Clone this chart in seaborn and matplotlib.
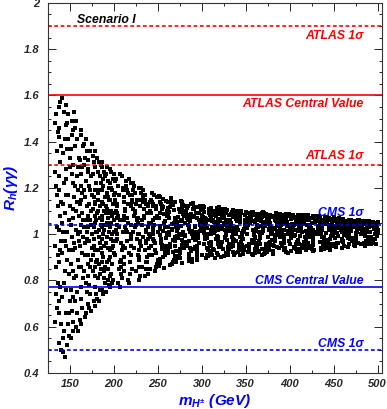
import matplotlib
matplotlib.use("Agg")
import matplotlib.pyplot as plt
from matplotlib.ticker import MultipleLocator, FormatStrFormatter
import seaborn as sns
import pandas as pd

# scan points (m_H+- in GeV, R_h(gamma gamma))
mh_1 = [133,134,133,135,134,136,133,135,136,134,135,133,136,134,135,136,
        137,138,139,140,137,138,139,140,137,138,139,140,137,138,139,140,138,139,137,140,
        141,142,143,144,145,141,142,143,144,145,141,142,143,144,145,141,142,143,144,145,142,144,
        146,147,148,149,150,146,147,148,149,150,146,147,148,149,150,146,147,148,149,150,147,149]
rh_1 = [1.48,1.21,0.95,1.36,0.74,1.12,0.62,1.03,1.44,0.86,0.68,1.27,0.91,1.52,1.17,0.79,
        1.55,0.53,1.31,0.97,0.71,1.42,1.08,0.61,1.19,0.88,1.57,0.50,1.02,1.25,0.77,1.38,0.66,0.93,1.46,1.14,
        1.59,0.49,1.22,0.84,1.47,1.05,1.35,0.58,0.97,0.66,0.73,1.13,1.53,0.47,1.28,0.92,1.01,0.79,1.41,1.17,0.55,1.09,
        1.56,0.52,1.17,0.83,1.33,0.95,1.48,0.61,1.06,0.71,1.24,0.89,1.41,0.56,1.12,0.76,1.01,1.52,0.66,1.29,1.37,0.93]

mh_2 = [151,152,153,154,155,151,152,153,154,155,151,152,153,154,155,151,152,153,154,155,152,153,154,151,
        156,157,158,159,160,156,157,158,159,160,156,157,158,159,160,156,157,158,159,160,157,158,159,156,
        161,162,163,164,165,161,162,163,164,165,161,162,163,164,165,161,162,163,164,165,162,163,164,161,
        166,167,168,169,170,166,167,168,169,170,166,167,168,169,170,166,167,168,169,170,167,168,169,166,
        171,172,173,174,175,171,172,173,174,175,171,172,173,174,175,171,172,173,174,175,172,173,174,171]
rh_2 = [1.04,1.49,0.58,1.22,0.81,1.37,0.67,1.11,0.93,1.53,0.55,0.99,1.30,0.73,1.16,0.87,1.43,0.62,1.07,0.96,1.26,0.84,1.45,0.76,
        1.46,0.60,1.14,0.89,1.33,0.71,1.02,1.25,0.58,0.97,1.38,0.82,0.66,1.19,1.08,0.94,1.49,0.75,1.29,0.86,1.10,1.41,1.00,1.21,
        0.63,1.21,1.43,0.92,1.06,1.32,0.77,1.15,0.68,1.38,1.01,0.86,1.26,1.09,0.81,0.95,1.45,0.61,1.18,0.99,1.04,0.72,1.29,1.13,
        1.39,0.91,0.66,1.12,1.27,1.03,1.33,0.79,0.98,0.70,1.19,0.64,1.06,1.36,0.87,0.84,1.16,1.41,0.75,1.08,0.96,1.23,1.01,1.30,
        1.03,0.68,1.36,0.89,1.17,1.28,0.97,0.74,1.10,1.39,0.82,1.21,1.06,0.67,0.94,1.32,1.13,0.86,1.25,1.00,0.78,1.19,1.04,0.91]

mh_3 = [176,177,178,179,180,176,177,178,179,180,176,177,178,179,180,176,177,178,179,180,176,177,178,179,180,177,178,179,
        181,182,183,184,185,181,182,183,184,185,181,182,183,184,185,181,182,183,184,185,181,182,183,184,185,182,183,184,
        186,187,188,189,190,186,187,188,189,190,186,187,188,189,190,186,187,188,189,190,186,187,188,189,190,187,188,189,
        191,192,193,194,195,191,192,193,194,195,191,192,193,194,195,191,192,193,194,195,191,192,193,194,195,192,193,194,
        196,197,198,199,200,196,197,198,199,200,196,197,198,199,200,196,197,198,199,200,196,197,198,199,200,197,198,199]
rh_3 = [1.34,0.71,1.05,0.93,1.22,0.84,1.16,1.29,0.69,1.01,1.11,0.98,0.77,1.36,0.88,1.26,0.95,1.08,1.19,0.74,0.91,1.31,1.13,0.82,1.06,1.03,0.86,1.14,
        0.72,1.27,0.99,1.12,0.85,1.33,0.93,1.19,0.76,1.04,1.09,0.81,1.31,0.96,1.22,0.89,1.15,0.71,1.07,1.30,1.01,1.10,0.87,1.25,0.94,1.18,1.02,0.83,
        1.06,1.29,0.74,0.95,1.16,0.88,1.03,1.21,1.10,0.79,1.31,0.92,1.00,0.84,1.25,0.98,0.76,1.13,1.27,1.04,1.19,1.08,0.90,1.02,0.86,1.14,1.24,0.81,
        0.96,1.18,1.07,0.78,1.28,1.12,0.88,1.23,1.01,0.93,0.75,1.05,0.85,1.15,1.09,1.26,0.99,0.80,1.20,1.03,1.09,1.29,0.94,0.89,0.82,1.11,1.16,1.04,
        1.22,0.83,1.00,1.13,0.92,0.77,1.27,1.08,0.95,1.17,1.04,0.98,0.87,1.24,1.06,1.15,1.10,1.19,0.80,1.01,0.90,1.05,0.94,1.09,1.26,1.20,0.79,0.97]

mh_4 = [206,202,209,204,210,201,208,203,207,205,204,208,201,210,205,209,202,207,203,206,209,205,202,208,203,207,210,201,206,204,207,202,210,204,201,208,
        212,217,214,211,216,220,215,219,213,218,216,212,219,214,220,211,218,213,217,215,214,218,211,220,215,219,212,217,213,216,213,219,215,211,216,220,
        229,225,222,228,223,227,230,221,226,224,222,227,224,221,226,230,225,229,223,228,226,222,229,224,230,221,228,223,227,225,227,222,230,224,221,228,
        234,238,231,240,235,239,232,237,233,236,239,235,232,238,233,237,240,231,236,234,232,237,234,231,236,240,235,239,233,238,233,239,235,231,236,240,
        246,242,249,244,250,241,248,243,247,245,242,247,244,241,246,250,245,249,243,248,249,245,242,248,243,247,250,241,246,244,247,242,250,244,241,248]
rh_4 = [1.03,1.24,0.81,1.12,0.95,1.18,0.89,1.07,1.26,0.79,0.98,0.86,1.15,1.01,1.21,0.93,1.10,0.77,1.04,1.17,1.25,1.08,0.97,0.83,1.13,1.06,1.20,0.91,0.85,1.00,0.88,1.02,1.19,1.09,1.23,0.96,
        1.16,0.92,1.23,0.84,1.05,1.00,1.19,0.95,1.11,0.88,0.80,1.08,0.99,1.21,0.91,1.14,0.83,1.03,1.24,1.07,1.02,1.17,0.87,1.12,0.97,1.22,1.06,0.79,0.94,1.18,1.10,0.98,1.01,0.90,1.13,1.04,
        0.86,1.13,1.01,1.20,0.94,1.07,0.82,1.17,0.98,1.10,1.22,0.91,1.09,0.85,1.15,0.97,1.04,0.89,1.21,1.00,1.06,1.19,0.80,1.03,1.12,1.15,0.93,1.08,1.05,0.84,1.00,1.11,0.96,1.18,1.14,0.90,
        1.11,0.88,1.18,1.00,0.93,0.83,1.06,0.96,1.14,1.02,0.98,1.15,0.86,1.09,1.19,1.13,0.91,1.20,0.85,1.08,1.04,1.01,1.07,0.95,0.88,0.94,1.17,1.03,0.99,0.90,1.16,1.12,0.82,1.15,0.97,1.05,
        0.97,1.15,0.87,1.06,1.01,1.10,0.92,1.18,0.96,1.13,1.05,0.84,1.12,0.99,1.17,0.89,1.03,1.08,1.14,0.86,1.16,1.00,0.95,1.11,0.91,1.07,1.16,0.85,1.04,0.98,0.93,1.09,0.88,1.02,1.14,1.12]

mh_5 = [256,252,259,254,260,251,258,253,257,255,259,255,252,258,253,257,260,251,256,254,254,258,251,260,255,259,252,257,253,256,253,258,251,256,260,255,252,259,
        264,268,261,270,265,269,262,267,263,266,262,267,264,261,266,270,265,269,263,268,266,262,269,264,270,261,268,263,267,265,267,262,269,264,261,270,266,263,
        279,275,272,278,273,277,280,271,276,274,276,272,279,274,280,271,278,273,277,275,272,277,274,271,276,280,275,279,273,278,273,278,271,276,280,275,272,279,
        282,287,284,281,286,290,285,289,283,288,284,288,281,290,285,289,282,287,283,286,289,285,282,288,283,287,290,281,286,284,287,282,289,284,281,290,286,283,
        296,292,299,294,300,291,298,293,297,295,292,297,294,291,296,300,295,299,293,298,294,298,291,300,295,299,292,297,293,296,293,298,291,296,300,295,292,299]
rh_5 = [1.012,0.874,1.143,0.962,1.078,1.165,0.921,1.035,0.853,1.109,0.947,1.121,0.995,1.058,0.893,1.087,1.004,0.869,1.152,0.978,1.131,0.912,1.069,1.101,0.938,0.985,1.160,1.047,1.024,0.901,1.093,1.030,0.861,1.117,1.001,0.954,1.138,0.931,
        0.958,1.104,1.032,0.883,1.147,1.061,0.917,1.126,0.997,1.042,1.139,0.975,0.866,1.083,1.018,0.905,1.155,0.948,1.069,0.889,1.021,1.092,1.140,0.943,0.971,1.113,1.050,1.008,0.925,1.130,0.878,1.007,1.071,1.119,0.934,0.988,0.870,1.097,
        1.087,0.935,1.012,1.139,0.896,0.974,1.121,0.881,1.056,1.003,1.143,1.044,0.962,0.907,1.102,1.029,0.952,1.075,1.132,0.919,0.993,0.876,1.109,1.066,1.037,0.942,1.095,1.128,0.983,1.061,1.025,1.115,0.927,0.998,1.079,0.899,1.051,1.011,
        0.947,1.068,1.124,0.991,1.036,1.109,0.886,1.015,0.958,1.131,1.082,0.928,1.049,1.135,0.903,1.003,1.097,0.941,1.071,0.972,0.893,1.022,0.966,1.088,1.118,1.056,0.983,1.121,0.915,1.040,1.010,1.101,0.880,1.062,0.996,1.076,1.029,1.113,
        1.117,0.973,1.046,0.907,1.084,0.938,1.124,1.011,1.063,0.889,1.029,1.092,0.951,1.108,1.002,1.072,0.893,1.120,0.981,1.041,0.921,1.014,1.078,1.055,0.936,1.103,1.035,0.964,1.090,1.116,0.997,1.058,1.119,0.985,0.912,1.069,0.944,1.022]

mh_6 = [304,308,301,310,305,309,302,307,303,306,309,305,302,308,303,307,310,301,306,304,302,307,304,301,306,310,305,309,303,308,307,302,309,304,301,310,306,303,
        319,315,312,318,313,317,320,311,316,314,314,318,311,320,315,319,312,317,313,316,316,312,319,314,320,311,318,313,317,315,313,318,311,316,320,315,312,319,
        322,327,324,321,326,330,325,329,323,328,326,322,329,324,330,321,328,323,327,325,329,325,322,328,323,327,330,321,326,324,327,322,329,324,321,330,326,323,
        336,332,339,334,340,331,338,333,337,335,334,338,331,340,335,339,332,337,333,336,332,337,334,331,336,340,335,339,333,338,333,338,331,336,340,335,332,339,
        344,348,341,350,345,349,342,347,343,346,346,342,349,344,350,341,348,343,347,345,349,345,342,348,343,347,350,341,346,344,347,342,349,344,341,350,346,343]
rh_6 = [1.043,0.962,1.106,1.017,0.897,1.081,1.011,0.933,1.118,0.985,0.918,1.067,1.034,1.093,0.956,1.002,1.113,1.055,0.941,1.071,1.097,0.905,0.978,1.121,1.026,0.926,1.049,1.088,1.006,1.111,1.060,1.024,0.947,0.992,1.075,0.968,0.912,1.039,
        0.974,1.098,1.029,0.908,1.063,1.115,0.946,1.003,1.077,0.931,1.052,0.987,1.110,1.037,0.899,1.019,1.084,0.920,1.101,1.046,1.088,0.912,0.966,1.006,1.117,0.952,1.066,1.091,0.994,1.027,0.937,1.049,1.072,0.979,1.104,1.013,1.058,0.958,
        1.023,1.091,0.938,1.058,0.987,0.910,1.075,1.106,0.965,1.041,1.107,0.953,1.012,1.082,0.927,1.066,0.996,1.033,1.099,0.906,0.976,1.048,1.095,0.919,1.070,1.004,0.944,1.087,1.017,1.109,1.055,0.902,1.029,1.100,0.961,1.062,0.983,1.036,
        0.948,1.063,1.102,0.987,1.031,1.084,0.918,1.047,1.009,0.962,1.096,1.022,0.935,1.071,1.104,0.999,1.054,0.909,1.088,1.027,1.015,0.973,1.081,1.044,0.924,1.100,0.981,1.067,0.943,1.092,1.037,1.089,0.956,1.006,1.058,1.075,1.025,0.970,
        1.079,0.931,1.018,1.096,0.967,1.040,1.101,0.913,1.058,1.003,0.952,1.069,1.085,0.990,1.033,0.921,1.011,1.074,0.946,1.092,1.046,1.099,0.940,1.024,1.086,0.978,1.053,1.097,1.006,0.932,1.014,0.959,1.063,0.910,1.081,1.029,0.985,1.051]

mh_7 = [359,355,352,358,353,357,360,351,356,354,352,357,354,351,356,360,355,359,353,358,356,352,359,354,360,351,358,353,357,355,357,352,360,354,351,358,
        362,367,364,361,366,370,365,369,363,368,369,365,362,368,363,367,370,361,366,364,364,368,361,370,365,369,362,367,363,366,363,369,365,361,366,370,
        376,372,379,374,380,371,378,373,377,375,379,375,372,378,373,377,380,371,376,374,372,377,374,371,376,380,375,379,373,378,377,372,380,374,371,378,
        384,388,381,390,385,389,382,387,383,386,382,387,384,381,386,390,385,389,383,388,389,385,382,388,383,387,390,381,386,384,383,389,385,381,386,390,
        399,395,392,398,393,397,400,391,396,394,396,392,399,394,400,391,398,393,397,395,394,398,391,400,395,399,392,397,393,396,397,392,400,394,391,398]
rh_7 = [1.008,1.083,0.947,1.055,0.921,1.097,0.983,1.030,1.072,0.959,1.043,0.914,1.091,1.001,1.064,0.937,1.048,0.970,1.093,1.019,1.078,1.026,0.996,0.926,1.085,1.062,0.911,1.038,0.964,1.081,0.975,1.069,1.013,0.945,1.052,1.096,
        0.953,1.036,1.087,0.990,1.062,1.016,0.928,1.074,1.041,0.912,1.091,0.971,1.021,1.083,0.944,1.056,1.095,0.917,1.002,1.068,1.029,1.078,0.962,1.047,1.011,0.935,1.061,1.034,1.089,0.985,1.071,1.006,0.921,1.052,0.957,1.024,
        1.061,0.918,1.012,1.083,0.975,1.090,1.039,0.956,1.022,1.067,0.999,1.076,0.934,1.048,1.088,0.943,1.006,1.080,1.057,0.925,1.034,0.962,1.069,0.915,1.017,1.073,0.987,1.028,0.949,1.085,0.931,1.051,1.003,1.042,1.091,0.968,
        0.997,1.066,0.929,1.049,1.084,1.030,0.951,1.087,0.982,1.013,1.078,1.002,1.055,0.920,1.037,0.964,1.071,1.019,1.060,0.939,1.086,0.944,1.025,1.075,0.971,1.044,1.082,0.916,1.052,1.090,1.021,0.989,1.070,0.955,1.008,1.039,
        1.041,0.936,1.074,1.010,0.963,1.082,1.026,0.950,1.068,0.995,0.922,1.058,1.087,0.979,1.033,1.003,0.918,1.045,1.079,1.061,1.071,0.999,1.016,1.084,0.941,0.970,1.063,1.035,0.930,1.088,1.053,1.083,0.957,1.020,0.986,1.012]

mh_8 = [402,407,404,401,406,410,405,409,403,408,404,408,401,410,405,409,402,407,403,406,406,402,409,404,410,401,408,403,407,405,405,409,402,406,403,
        416,412,419,414,420,411,418,413,417,415,412,417,414,411,416,420,415,419,413,418,419,415,412,418,413,417,420,411,416,414,418,411,414,420,417,
        424,428,421,430,425,429,422,427,423,426,429,425,422,428,423,427,430,421,426,424,426,422,429,424,430,421,428,423,427,425,425,429,422,426,423,
        439,435,432,438,433,437,440,431,436,434,432,437,434,431,436,440,435,439,433,438,434,438,431,440,435,439,432,437,433,436,438,431,434,440,437,
        442,447,444,441,446,450,445,449,443,448,446,442,449,444,450,441,448,443,447,445,444,448,441,450,445,449,442,447,443,446,445,449,442,446,443]
rh_8 = [0.983,1.057,1.081,0.929,1.020,1.069,0.946,1.012,1.077,0.968,1.036,0.922,1.065,1.045,0.991,1.083,1.029,0.957,1.002,1.072,0.939,1.006,0.975,1.080,1.051,1.014,1.062,1.075,0.935,1.039,1.074,0.962,1.027,0.997,1.043,
        1.064,0.994,0.931,1.049,1.079,0.958,1.071,1.023,0.988,1.042,0.925,1.081,1.011,1.066,0.965,1.038,0.941,1.078,1.054,0.976,1.016,1.058,1.068,0.947,1.030,1.075,1.004,0.934,1.047,1.081,0.979,1.026,0.953,1.061,1.083,
        1.028,1.075,0.962,1.008,0.935,1.052,0.986,1.079,1.041,0.927,1.068,0.949,1.032,1.077,1.014,0.971,1.061,0.940,1.019,1.069,0.955,1.036,1.073,0.997,1.056,1.081,0.931,1.024,0.978,1.049,1.002,1.077,1.063,0.991,0.945,
        0.974,1.066,1.021,0.942,1.075,1.036,0.959,1.071,0.999,1.052,1.078,0.986,1.047,1.011,0.930,1.061,1.072,0.935,1.028,0.966,1.006,0.951,1.074,1.058,1.039,0.989,1.034,1.019,1.069,0.940,1.043,1.003,0.968,1.076,1.060,
        1.046,0.957,1.070,1.004,0.933,1.067,1.025,0.947,1.059,1.013,0.981,1.074,1.037,0.964,1.071,0.939,1.052,1.068,0.992,1.039,1.063,1.008,0.944,1.076,1.020,1.031,0.970,1.062,1.045,0.951,1.072,0.998,1.054,1.064,0.977]

mh_9 = [454,458,451,460,455,459,452,457,453,456,456,452,459,454,460,451,458,453,457,455,452,457,454,451,456,460,455,459,453,458,455,
        469,465,462,468,463,467,470,461,466,464,464,468,461,470,465,469,462,467,463,466,462,467,464,461,466,470,465,469,463,468,468,
        476,472,479,474,480,471,478,473,477,475,479,475,472,478,473,477,480,471,476,474,474,478,471,480,475,479,472,477,473,476,473,
        482,487,484,481,486,490,485,489,483,488,489,485,482,488,483,487,490,481,486,484,486,482,489,484,490,481,488,483,487,485,486,
        494,498,491,500,495,499,492,497,493,496,492,497,494,491,496,500,495,499,493,498,499,495,492,498,493,497,500,491,496,494,495]
rh_9 = [0.963,1.049,1.015,0.941,1.066,1.029,0.985,1.061,0.952,1.038,1.068,0.956,1.033,1.004,0.978,1.058,1.020,0.946,1.064,0.993,1.011,1.063,1.042,1.055,1.026,0.970,1.047,1.008,1.031,1.059,0.961,
        1.053,0.992,0.947,1.061,1.022,0.959,1.040,1.064,0.984,1.006,1.030,1.063,0.971,1.013,1.057,1.046,0.950,1.025,1.059,0.943,0.998,1.036,1.055,0.966,1.044,1.062,1.017,0.981,1.041,1.061,1.001,
        0.976,1.059,1.028,0.952,1.045,1.036,0.963,1.057,1.012,0.990,1.061,0.999,1.043,1.060,0.955,1.018,1.054,0.982,1.034,1.058,0.948,1.024,0.970,1.051,1.007,1.050,1.031,1.009,0.961,1.040,1.056,
        1.032,0.969,1.057,1.003,0.951,1.055,1.019,0.962,1.047,1.027,0.987,1.051,1.038,0.958,1.056,1.009,0.976,1.053,0.994,1.049,1.044,1.016,0.980,1.054,1.029,0.956,1.041,1.021,1.055,0.960,0.998,
        0.962,1.044,1.010,1.053,0.974,1.049,0.986,1.036,0.958,1.023,1.052,1.001,0.967,1.040,1.050,1.017,1.052,0.992,1.046,0.956,1.028,0.960,1.051,1.005,1.034,0.981,1.009,1.054,1.026,1.048,1.039]

# experimental references
ref_labels = ["ATLAS 1σ", "ATLAS Central Value", "ATLAS 1σ", "CMS 1σ", "CMS Central Value", "CMS 1σ"]
ref_values = [1.9, 1.6, 1.3, 1.04, 0.77, 0.5]
ref_colors = ["red", "red", "red", "blue", "blue", "blue"]
ref_styles = ["--", "-", "--", "--", "-", "--"]

bands = [(mh_1, rh_1), (mh_2, rh_2), (mh_3, rh_3), (mh_4, rh_4), (mh_5, rh_5),
         (mh_6, rh_6), (mh_7, rh_7), (mh_8, rh_8), (mh_9, rh_9)]
for i, (a, b) in enumerate(bands):
    if len(a) != len(b):
        raise ValueError("band %d: %d vs %d" % (i + 1, len(a), len(b)))

df = pd.DataFrame({
    "mh": sum([a for a, b in bands], []),
    "rh": sum([b for a, b in bands], []),
})

sns.set_style("ticks")
plt.rcParams["font.family"] = ["Liberation Sans", "DejaVu Sans"]
plt.rcParams["font.weight"] = "bold"
plt.rcParams["font.style"] = "italic"
plt.rcParams["mathtext.fontset"] = "custom"
plt.rcParams["mathtext.it"] = "Liberation Sans:italic:bold"
plt.rcParams["mathtext.rm"] = "Liberation Sans:italic:bold"
plt.rcParams["mathtext.bf"] = "Liberation Sans:italic:bold"

fig = plt.figure(figsize=(3.87, 4.09), dpi=100)
ax = fig.add_axes([0.124, 0.088, 0.863, 0.905])

sns.scatterplot(data=df, x="mh", y="rh", marker="s", s=7.5, color="black",
                linewidth=0, ax=ax, legend=False)

for val, col, ls in zip(ref_values, ref_colors, ref_styles):
    ax.axhline(val, color=col, ls=ls, lw=1.2, dashes=(2.2, 1.6) if ls == "--" else (None, None))

# label offsets: above or below the line
offsets = [-0.045, -0.037, 0.037, 0.052, 0.026, 0.026]
for lab, val, col, off in zip(ref_labels, ref_values, ref_colors, offsets):
    ax.text(484, val + off, lab, color=col, fontsize=8.8, ha="right", va="center",
            fontweight="bold", fontstyle="italic")

ax.text(158, 1.925, "Scenario I", color="black", fontsize=8.8, ha="left", va="center",
        fontweight="bold", fontstyle="italic")

ax.set_xlim(125, 505)
ax.set_ylim(0.4, 2.0)
ax.xaxis.set_major_locator(MultipleLocator(50))
ax.xaxis.set_minor_locator(MultipleLocator(25))
ax.yaxis.set_major_locator(MultipleLocator(0.2))
ax.yaxis.set_minor_locator(MultipleLocator(0.05))
ax.yaxis.set_major_formatter(FormatStrFormatter("%g"))
ax.tick_params(which="both", direction="in", top=True, right=True, labelsize=8, width=0.7)
ax.tick_params(which="major", length=5.5)
ax.tick_params(which="minor", length=2.5)
ax.tick_params(axis="y", which="major", pad=6.5)
ax.tick_params(axis="x", which="major", pad=4.5)
for lbl in ax.get_xticklabels() + ax.get_yticklabels():
    lbl.set_fontweight("bold")
    lbl.set_fontstyle("italic")
for sp in ax.spines.values():
    sp.set_linewidth(0.8)
    sp.set_color("#333333")

ax.set_xlabel(r"$m_{H^{\pm}}$ (GeV)", color="blue", fontsize=11, fontweight="bold", fontstyle="italic")
ax.set_ylabel(r"$R_h(γγ)$", color="blue", fontsize=11)
ax.xaxis.set_label_coords(0.5, -0.052)
ax.yaxis.set_label_coords(-0.085, 0.5)

fig.savefig("out.png", dpi=100)
